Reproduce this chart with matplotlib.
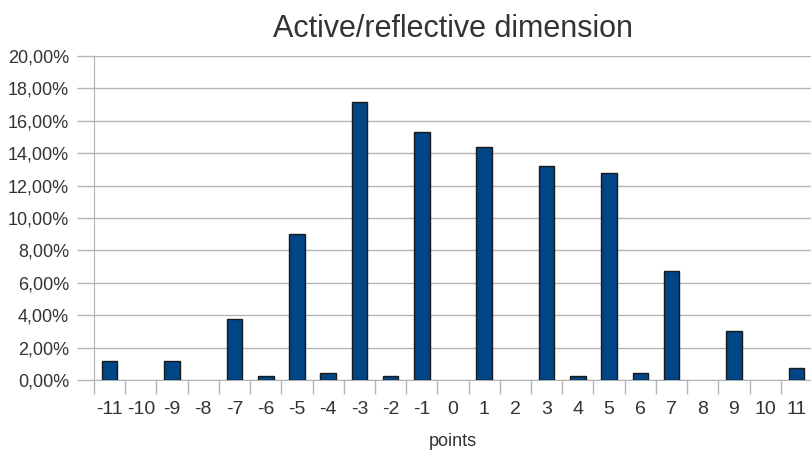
import numpy as np
import matplotlib.pyplot as plt
from matplotlib.ticker import FuncFormatter, MultipleLocator

# Puntos de la escala y porcentaje de respuestas
puntos = [-11, -10, -9, -8, -7, -6, -5, -4, -3, -2, -1, 0,
          1, 2, 3, 4, 5, 6, 7, 8, 9, 10, 11]
porcentajes = [1.15, 0, 1.15, 0, 3.75, 0.23, 9.03, 0.45, 17.16, 0.23, 15.29, 0,
               14.38, 0, 13.21, 0.23, 12.78, 0.45, 6.73, 0, 3.02, 0, 0.72]

plt.rcParams['font.family'] = ['Liberation Sans', 'DejaVu Sans']

fig = plt.figure(figsize=(8.12, 4.54), dpi=100)
ax = fig.add_axes([0.1158, 0.163, 0.8842, 0.7137])

x = np.arange(len(puntos))
bordes = ['#1a1a1a' if v > 0 else 'none' for v in porcentajes]
ax.bar(x, porcentajes, width=0.5, color='#004586', edgecolor=bordes,
       linewidth=1, zorder=3)

ax.set_xlim(-0.5, len(puntos) - 0.5)
ax.set_ylim(0, 20)

# Eje Y con formato de porcentaje y coma decimal
ax.yaxis.set_major_locator(MultipleLocator(2))
ax.yaxis.set_major_formatter(FuncFormatter(lambda v, p: f'{v:.2f}%'.replace('.', ',')))
ax.grid(axis='y', color='#b3b3b3', linewidth=1, zorder=0)

# Eje X: etiquetas en el centro, marcas entre categorías
ax.set_xticks(x)
ax.set_xticklabels([str(p) for p in puntos])
ax.set_xticks(np.arange(-0.5, len(puntos)), minor=True)
ax.tick_params(axis='x', which='major', length=0, pad=15, labelsize=14)
ax.tick_params(axis='x', which='minor', length=10, color='#b3b3b3', width=1)
ax.tick_params(axis='y', length=12, color='#b3b3b3', width=1, pad=6, labelsize=13)
ax.tick_params(labelcolor='#333333')

for lado in ['top', 'right']:
    ax.spines[lado].set_visible(False)
for lado in ['left', 'bottom']:
    ax.spines[lado].set_color('#b3b3b3')

ax.set_title('Active/reflective dimension', fontsize=22, color='#333333', pad=14)
ax.set_xlabel('points', fontsize=13, color='#333333', labelpad=11)

plt.savefig('out.png', dpi=100)
